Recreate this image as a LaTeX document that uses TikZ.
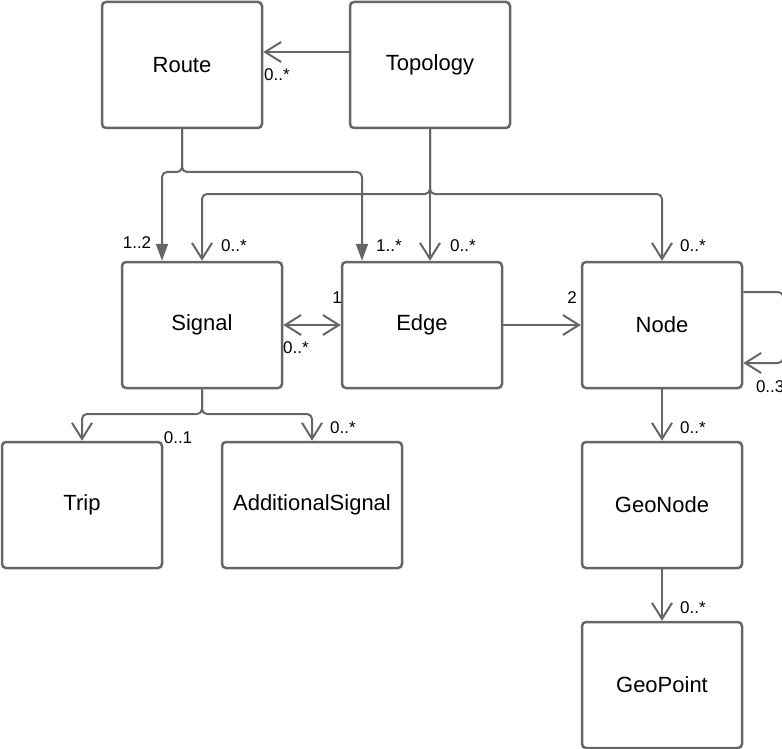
\documentclass[tikz,border=0pt]{standalone}
\usepackage{fontspec}
\setmainfont{Liberation Sans}
\usetikzlibrary{arrows.meta,positioning}
\definecolor{umlgray}{HTML}{666666}
\tikzset{every picture/.style={line width=2pt}}
\tikzstyle{cls}=[draw=umlgray,line width=2.5pt,rounded corners=4pt,fill=white,minimum width=160pt,minimum height=126pt,inner sep=0pt,font=\fontsize{22}{26}\selectfont]
\tikzstyle{mult}=[inner sep=0pt,font=\fontsize{17}{20}\selectfont]
\tikzstyle{open}=[draw=umlgray,rounded corners=5pt,-{Straight Barb[length=16pt,width=20pt]}]
\tikzstyle{filled}=[draw=umlgray,rounded corners=5pt,-{Triangle[length=17pt,width=12pt]}]
\begin{document}
\begin{tikzpicture}[x=1pt,y=-1pt]
\useasboundingbox (0,0) rectangle (782,749);
\node[cls] (Route) at (182,65) {Route};
\node[cls] (Topology) at (430,65) {Topology};
\node[cls] (Signal) at (202,325) {Signal};
\node[cls] (Edge) at (422,325) {Edge};
\node[cls] (Node) at (662,325) {Node};
\node[cls] (Trip) at (82,505) {Trip};
\node[cls,minimum width=180pt] (Extra) at (312,505) {AdditionalSignal};
\node[cls] (GeoNode) at (662,505) {GeoNode};
\node[cls] (GeoPoint) at (662,685) {GeoPoint};
% junctions
\coordinate (rj) at (182,172);
\coordinate (tj) at (430,194);
\coordinate (sj) at (202,414);
% Topology -> Route
\draw[open] ([yshift=13pt]Topology.west) -- ([yshift=13pt]Route.east);
\node[mult] at (277,75) {0..*};
% Route -> Signal, Edge
\draw[filled] (Route.south) -- (rj) -| ([xshift=-40pt]Signal.north);
\draw[filled] (Route.south) -- (rj) -| ([xshift=-60pt]Edge.north);
\node[mult] at (137,243) {1..2};
\node[mult] at (389,246) {1..*};
% Topology -> Signal, Edge, Node
\draw[open] (Topology.south) -- (tj) -| (Signal.north);
\draw[open] (Topology.south) -- (Topology.south |- Edge.north);
\draw[open] (Topology.south) -- (tj) -| (Node.north);
\node[mult] at (234,246) {0..*};
\node[mult] at (463,246) {0..*};
\node[mult] at (693,246) {0..*};
% Signal <-> Edge -> Node
\draw[open,{Straight Barb[length=16pt,width=20pt]}-{Straight Barb[length=16pt,width=20pt]}] (Signal) -- (Edge);
\draw[open] (Edge) -- (Node);
\node[mult] at (337,298) {1};
\node[mult] at (296,348) {0..*};
\node[mult] at (572,298) {2};
% Node self loop
\draw[open] ([yshift=33pt]Node.east) -- ++(40,0) |- ([yshift=-38pt]Node.east);
\node[mult,anchor=west] at (755,387) {0..3};
% Signal -> Trip, AdditionalSignal
\draw[open] (Signal.south) -- (sj) -| (Trip.north);
\draw[open] (Signal.south) -- (sj) -| (Extra.north);
\node[mult] at (178,438) {0..1};
\node[mult] at (343,428) {0..*};
% Node -> GeoNode -> GeoPoint
\draw[open] (Node) -- (GeoNode);
\node[mult] at (693,428) {0..*};
\draw[open] (GeoNode) -- (GeoPoint);
\node[mult] at (693,608) {0..*};
\end{tikzpicture}
\end{document}
